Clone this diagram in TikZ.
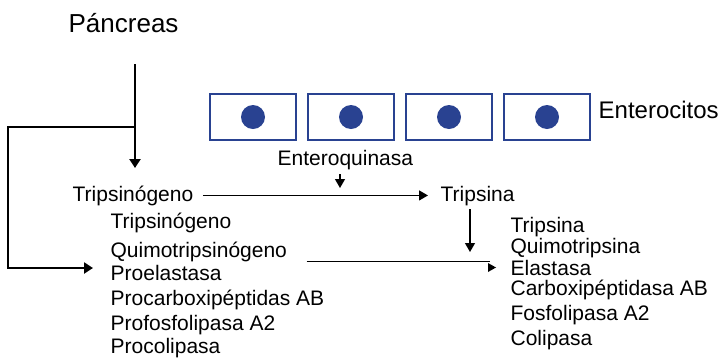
\documentclass[tikz,border=0pt]{standalone}
\usepackage{fontspec}
\setmainfont{Liberation Sans}
\usetikzlibrary{arrows.meta}
\definecolor{azulcelda}{RGB}{41,66,145}

\begin{document}
\begin{tikzpicture}[x=1pt, y=-1pt, >={Triangle[width=10pt,length=9pt]}, line width=1.3pt,
  every node/.style={inner sep=0pt, anchor=base west, font=\fontsize{21}{25}\selectfont},
  grueso/.style={line width=2.4pt, >={Triangle[width=11pt,length=9pt]}},
  celda/.style={draw=azulcelda, line width=2pt}]
\useasboundingbox (0,0) rectangle (718,357);
\def\W{86}
\def\H{46}
\def\Sep{98}
% enterocitos
\foreach \i in {0,...,3}{
  \draw[celda] ({210+\i*\Sep},94) rectangle ++(\W,\H);
  \fill[azulcelda] ({253+\i*\Sep},117) circle (12);
}
\node[font=\fontsize{26}{30}\selectfont] (pancreas) at (68,32) {Páncreas};
\node[font=\fontsize{24}{28}\selectfont] (entero) at (598,118) {Enterocitos};
\node (quinasa) at (277,165) {Enteroquinasa};
\node (tgeno) at (72,201) {Tripsinógeno};
\node (tsina) at (440,201) {Tripsina};
% zimógenos
\node (zA) at (110,228) {Tripsinógeno};
\node (quimo) at (110,257) {Quimotripsinógeno};
\node (zC) at (110,280) {Proelastasa};
\node (zD) at (110,305) {Procarboxipéptidas AB};
\node (zE) at (110,330) {Profosfolipasa A2};
\node (zF) at (110,353) {Procolipasa};
% enzimas activas
\node (eA) at (510,232) {Tripsina};
\node (eB) at (510,253) {Quimotripsina};
\node (elast) at (510,275) {Elastasa};
\node (eD) at (510,295) {Carboxipéptidasa AB};
\node (eE) at (510,320) {Fosfolipasa A2};
\node (eF) at (510,345) {Colipasa};
% flechas
\coordinate (p0) at (135,64);
\coordinate (p1) at (135,127);
\coordinate (p2) at (8,127);
\coordinate (ptip) at (135,168);
\coordinate (ltip) at (93,268);
\draw[grueso,->] (p0) -- (ptip);
\draw[grueso,->] (p1) -- (p2) |- (ltip);
\draw[->] ([xshift=9pt]tgeno.east) -- ([xshift=-12pt]tgeno.east -| tsina.west);
\coordinate (qtip) at (340,188);
\draw[->] ([yshift=-4pt]quinasa.south -| qtip) -- (qtip);
\coordinate (ttip) at (470,252);
\draw[->] ([yshift=-3pt]tsina.south -| ttip) -- (ttip);
\coordinate (q1) at (490,261);
\draw[line width=1pt] ([xshift=19pt]quimo.east |- q1) -- (q1);
\fill ([xshift=-14pt]elast.west) -- ++(-8,-4.5) -- ++(0,9) -- cycle;
\end{tikzpicture}
\end{document}
